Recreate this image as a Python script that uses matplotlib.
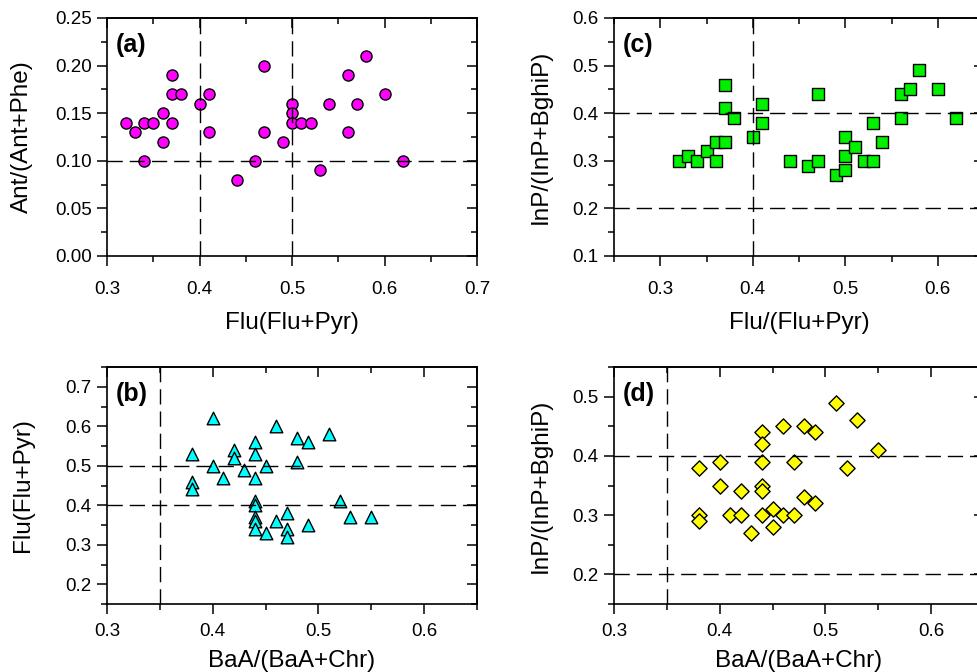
import matplotlib
matplotlib.use("Agg")
import matplotlib.pyplot as plt
from matplotlib.ticker import MultipleLocator, FormatStrFormatter

plt.rcParams['font.family'] = ['Liberation Sans', 'DejaVu Sans']

# Panel (a): Flu/(Flu+Pyr) vs Ant/(Ant+Phe)
a_x = [0.32, 0.33, 0.34, 0.34, 0.35, 0.36, 0.36, 0.37, 0.37, 0.37, 0.38, 0.40, 0.41, 0.41,
       0.44, 0.46, 0.47, 0.47, 0.49, 0.50, 0.50, 0.50, 0.51, 0.52, 0.53, 0.54, 0.56, 0.56,
       0.57, 0.58, 0.60, 0.62]
a_y = [0.14, 0.13, 0.14, 0.10, 0.14, 0.15, 0.12, 0.19, 0.17, 0.14, 0.17, 0.16, 0.17, 0.13,
       0.08, 0.10, 0.20, 0.13, 0.12, 0.16, 0.15, 0.14, 0.14, 0.14, 0.09, 0.16, 0.19, 0.13,
       0.16, 0.21, 0.17, 0.10]

# Panel (c): Flu/(Flu+Pyr) vs InP/(InP+BghiP)
c_x = [0.32, 0.33, 0.34, 0.35, 0.36, 0.36, 0.37, 0.37, 0.37, 0.38, 0.40, 0.41, 0.41, 0.44,
       0.46, 0.47, 0.47, 0.49, 0.50, 0.50, 0.50, 0.51, 0.52, 0.53, 0.53, 0.54, 0.56, 0.56,
       0.57, 0.58, 0.60, 0.62]
c_y = [0.30, 0.31, 0.30, 0.32, 0.34, 0.30, 0.46, 0.41, 0.34, 0.39, 0.35, 0.42, 0.38, 0.30,
       0.29, 0.44, 0.30, 0.27, 0.35, 0.31, 0.28, 0.33, 0.30, 0.38, 0.30, 0.34, 0.44, 0.39,
       0.45, 0.49, 0.45, 0.39]

# Panel (b): BaA/(BaA+Chr) vs Flu/(Flu+Pyr)
b_x = [0.38, 0.38, 0.38, 0.40, 0.40, 0.41, 0.42, 0.42, 0.43, 0.44, 0.44, 0.44, 0.44, 0.44,
       0.44, 0.44, 0.44, 0.45, 0.45, 0.46, 0.46, 0.47, 0.47, 0.47, 0.48, 0.48, 0.49, 0.49,
       0.51, 0.52, 0.53, 0.55]
b_y = [0.53, 0.46, 0.44, 0.62, 0.50, 0.47, 0.54, 0.52, 0.49, 0.56, 0.53, 0.47, 0.41, 0.40,
       0.37, 0.36, 0.34, 0.50, 0.33, 0.60, 0.36, 0.38, 0.34, 0.32, 0.57, 0.51, 0.56, 0.35,
       0.58, 0.41, 0.37, 0.37]

# Panel (d): BaA/(BaA+Chr) vs InP/(InP+BghiP)
d_x = [0.38, 0.38, 0.38, 0.40, 0.40, 0.41, 0.42, 0.42, 0.43, 0.44, 0.44, 0.44, 0.44, 0.44,
       0.44, 0.45, 0.45, 0.46, 0.46, 0.47, 0.47, 0.48, 0.48, 0.49, 0.49, 0.51, 0.52, 0.53,
       0.55]
d_y = [0.38, 0.30, 0.29, 0.39, 0.35, 0.30, 0.34, 0.30, 0.27, 0.44, 0.42, 0.39, 0.35, 0.34,
       0.30, 0.31, 0.28, 0.45, 0.30, 0.39, 0.30, 0.45, 0.33, 0.44, 0.32, 0.49, 0.38, 0.46,
       0.41]

fig = plt.figure(figsize=(9.77, 6.72), dpi=100)
W, H = 977.0, 672.0

def make_ax(l, t, r, b):
    return fig.add_axes([l / W, 1 - b / H, (r - l) / W, (b - t) / H])

panels = [
    dict(rect=(107, 18, 477, 256), x=a_x, y=a_y, m='o', s=64, c='#FF00FF', tag='(a)',
         xlim=(0.3, 0.7), ylim=(0.0, 0.25), xmaj=0.1, xmin=0.05, ymaj=0.05, ymin=0.025,
         yfmt='%.2f', vl=[0.4, 0.5], hl=[0.1], xlab='Flu(Flu+Pyr)', ylab='Ant/(Ant+Phe)',
         ylx=-0.200, xpad=11, lpad=10),
    dict(rect=(614, 18, 984, 256), x=c_x, y=c_y, m='s', s=64, c='#00F000', tag='(c)',
         xlim=(0.25, 0.65), ylim=(0.1, 0.6), xmaj=0.1, xmin=0.05, ymaj=0.1, ymin=0.05,
         yfmt='%.1f', vl=[0.4], hl=[0.4, 0.2], xlab='Flu/(Flu+Pyr)', ylab='InP/(InP+BghiP)',
         ylx=-0.168, xpad=11, lpad=10),
    dict(rect=(107, 367, 477, 604), x=b_x, y=b_y, m='^', s=82, c='#00FFFF', tag='(b)',
         xlim=(0.3, 0.65), ylim=(0.15, 0.75), xmaj=0.1, xmin=0.05, ymaj=0.1, ymin=0.05,
         yfmt='%.1f', vl=[0.35], hl=[0.5, 0.4], xlab='BaA/(BaA+Chr)', ylab='Flu(Flu+Pyr)',
         ylx=-0.197, xpad=7, lpad=7),
    dict(rect=(614, 367, 984, 604), x=d_x, y=d_y, m='D', s=60, c='#FFFF00', tag='(d)',
         xlim=(0.3, 0.65), ylim=(0.15, 0.55), xmaj=0.1, xmin=0.05, ymaj=0.1, ymin=0.05,
         yfmt='%.1f', vl=[0.35], hl=[0.4, 0.2], xlab='BaA/(BaA+Chr)', ylab='InP/(InP+BghiP)',
         ylx=-0.168, xpad=7, lpad=7),
]

for p in panels:
    ax = make_ax(*p['rect'])
    ax.scatter(p['x'], p['y'], marker=p['m'], s=p['s'], c=p['c'], edgecolors='black',
               linewidths=1.0, zorder=2, clip_on=False)
    for v in p['vl']:
        ax.axvline(v, color='black', lw=1.0, dashes=(11, 5), zorder=3)
    for h in p['hl']:
        ax.axhline(h, color='black', lw=1.0, dashes=(11, 5), zorder=3)
    ax.set_xlim(*p['xlim'])
    ax.set_ylim(*p['ylim'])
    ax.xaxis.set_major_locator(MultipleLocator(p['xmaj']))
    ax.xaxis.set_minor_locator(MultipleLocator(p['xmin']))
    ax.yaxis.set_major_locator(MultipleLocator(p['ymaj']))
    ax.yaxis.set_minor_locator(MultipleLocator(p['ymin']))
    ax.xaxis.set_major_formatter(FormatStrFormatter('%.1f'))
    ax.yaxis.set_major_formatter(FormatStrFormatter(p['yfmt']))
    for sp in ax.spines.values():
        sp.set_linewidth(1.2)
    ax.tick_params(axis='both', which='both', width=1.1, labelsize=13.5)
    ax.tick_params(axis='both', which='major', length=7)
    ax.tick_params(axis='both', which='minor', length=4.5)
    ax.tick_params(axis='x', which='both', direction='out', bottom=True, pad=p['xpad'])
    ax.tick_params(axis='y', which='both', direction='out', left=True, pad=4)
    # inward ticks on the top and right spines
    axt = ax.secondary_xaxis('top')
    axt.xaxis.set_major_locator(MultipleLocator(p['xmaj']))
    axt.xaxis.set_minor_locator(MultipleLocator(p['xmin']))
    axt.tick_params(axis='x', which='both', direction='in', labeltop=False, width=1.1)
    axt.tick_params(which='major', length=7)
    axt.tick_params(which='minor', length=4.5)
    axt.spines['top'].set_linewidth(1.2)
    axr = ax.secondary_yaxis('right')
    axr.yaxis.set_major_locator(MultipleLocator(p['ymaj']))
    axr.yaxis.set_minor_locator(MultipleLocator(p['ymin']))
    axr.tick_params(axis='y', which='both', direction='in', labelright=False, width=1.1)
    axr.tick_params(which='major', length=7)
    axr.tick_params(which='minor', length=4.5)
    axr.spines['right'].set_linewidth(1.2)

    ax.set_xlabel(p['xlab'], fontsize=17.5, labelpad=p['lpad'])
    ax.set_ylabel(p['ylab'], fontsize=17.5)
    ax.yaxis.set_label_coords(p['ylx'], 0.5)
    ax.text(0.024, 0.935, p['tag'], transform=ax.transAxes, fontsize=18,
            fontweight='bold', ha='left', va='top')

fig.savefig('out.png', dpi=100)
